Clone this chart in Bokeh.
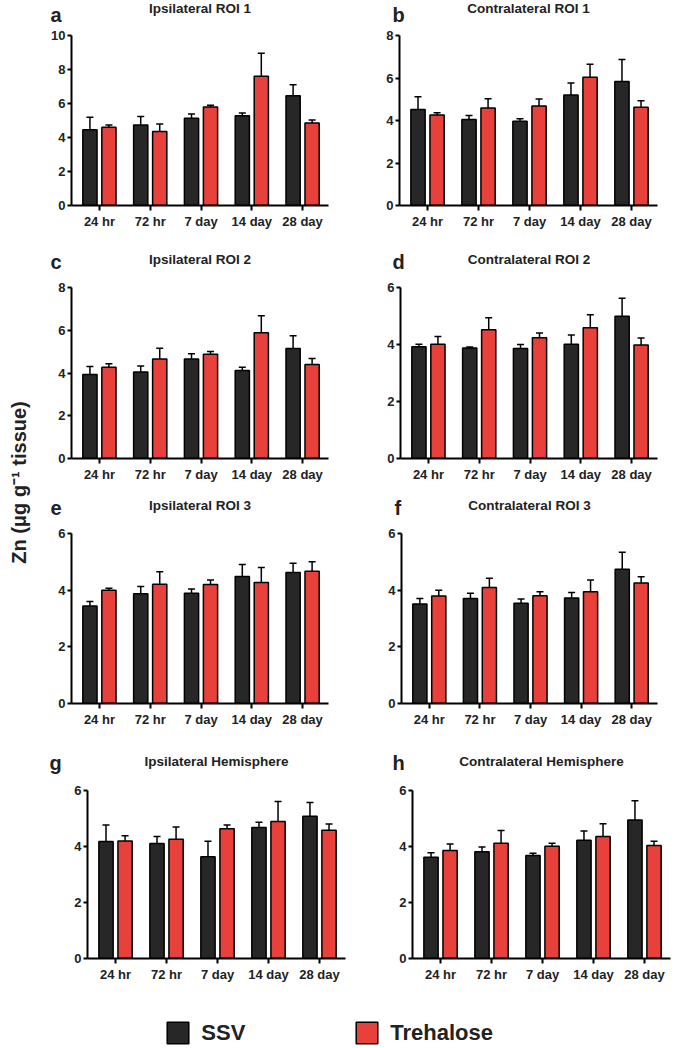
import math
from bokeh.plotting import figure
from bokeh.layouts import row, column
from bokeh.models import (ColumnDataSource, Range1d, FixedTicker, SingleIntervalTicker,
                          Whisker, TeeHead, Label, Legend, LegendItem)
from bokeh.transform import dodge
from bokeh.embed import file_html
from bokeh.resources import INLINE

# ---------------- data ----------------
times = ["24 hr", "72 hr", "7 day", "14 day", "28 day"]
series_names = ["SSV", "Trehalose"]

a_ssv = [4.46, 4.74, 5.13, 5.28, 6.46]
a_ssv_sem = [0.73, 0.50, 0.25, 0.16, 0.64]
a_tre = [4.60, 4.36, 5.79, 7.61, 4.85]
a_tre_sem = [0.14, 0.43, 0.10, 1.35, 0.18]

b_ssv = [4.52, 4.05, 3.97, 5.20, 5.84]
b_ssv_sem = [0.60, 0.19, 0.11, 0.56, 1.03]
b_tre = [4.26, 4.59, 4.68, 6.03, 4.62]
b_tre_sem = [0.11, 0.43, 0.33, 0.62, 0.31]

c_ssv = [3.93, 4.05, 4.65, 4.12, 5.15]
c_ssv_sem = [0.37, 0.28, 0.25, 0.15, 0.59]
c_tre = [4.27, 4.66, 4.88, 5.88, 4.40]
c_tre_sem = [0.16, 0.50, 0.13, 0.80, 0.28]

d_ssv = [3.92, 3.88, 3.86, 4.01, 4.99]
d_ssv_sem = [0.09, 0.03, 0.14, 0.32, 0.63]
d_tre = [4.01, 4.52, 4.24, 4.59, 3.98]
d_tre_sem = [0.27, 0.42, 0.16, 0.45, 0.25]

e_ssv = [3.44, 3.87, 3.89, 4.48, 4.62]
e_ssv_sem = [0.16, 0.26, 0.15, 0.43, 0.33]
e_tre = [4.00, 4.21, 4.20, 4.27, 4.67]
e_tre_sem = [0.07, 0.44, 0.16, 0.53, 0.33]

f_ssv = [3.51, 3.71, 3.54, 3.72, 4.74]
f_ssv_sem = [0.20, 0.18, 0.15, 0.20, 0.60]
f_tre = [3.79, 4.09, 3.80, 3.94, 4.25]
f_tre_sem = [0.21, 0.33, 0.14, 0.42, 0.22]

g_ssv = [4.18, 4.11, 3.63, 4.68, 5.08]
g_ssv_sem = [0.59, 0.25, 0.56, 0.19, 0.49]
g_tre = [4.20, 4.26, 4.63, 4.89, 4.58]
g_tre_sem = [0.18, 0.44, 0.14, 0.72, 0.22]

h_ssv = [3.62, 3.81, 3.68, 4.22, 4.95]
h_ssv_sem = [0.16, 0.17, 0.08, 0.33, 0.68]
h_tre = [3.86, 4.12, 4.01, 4.36, 4.04]
h_tre_sem = [0.23, 0.45, 0.11, 0.45, 0.15]

titles = ["Ipsilateral ROI 1", "Contralateral ROI 1", "Ipsilateral ROI 2", "Contralateral ROI 2",
          "Ipsilateral ROI 3", "Contralateral ROI 3", "Ipsilateral Hemisphere", "Contralateral Hemisphere"]
letters = ["a", "b", "c", "d", "e", "f", "g", "h"]
y_max = [10, 8, 8, 6, 6, 6, 6, 6]
y_label = "Zn (\u03bcg g\u207b\u00b9 tissue)"

# ---------------- style / geometry (page px) ----------------
FONT = "Liberation Sans"
TXT = "#222222"
SSV_COLOR = "#272727"
TRE_COLOR = "#e8403a"
BAR_W = 0.28
OFF = 0.187

YL_W = 32
LEFT_X, LEFT_W = 32, 328
RIGHT_X, RIGHT_W = 360, 312
FULL_W = LEFT_W + RIGHT_W

# per row: header height, panel height, panel top/bottom borders, title/letter offsets (from header bottom)
rows_geo = [
    dict(hh=28, ph=212, bt=7, bb=35, tb=20, lb=14),
    dict(hh=40, ph=205, bt=7, bb=27, tb=21, lb=19),
    dict(hh=41, ph=214, bt=7, bb=37, tb=21, lb=19),
    dict(hh=43, ph=207, bt=7, bb=32, tb=22, lb=21),
]
left_geo = [dict(bl=39, br=32, lx=50), dict(bl=39, br=32, lx=50),
            dict(bl=39, br=32, lx=50), dict(bl=55, br=15, lx=49)]
right_geo = [dict(bl=39, br=15, lx=392), dict(bl=40, br=15, lx=392),
             dict(bl=41, br=15, lx=394), dict(bl=52, br=2, lx=392)]
LEG_H = 56


def make_panel(idx, ssv, ssv_sem, tre, tre_sem, rg, cg, cw):
    xs = list(range(len(times)))
    src = ColumnDataSource(dict(
        x=xs, ssv=ssv, tre=tre,
        ssv_hi=[m + s for m, s in zip(ssv, ssv_sem)],
        tre_hi=[m + s for m, s in zip(tre, tre_sem)],
    ))
    p = figure(width=cw, height=rg["ph"], output_backend="svg", toolbar_location=None,
               x_range=Range1d(-0.55, 4.51), y_range=Range1d(0, y_max[idx]),
               min_border_left=cg["bl"], min_border_right=cg["br"],
               min_border_top=rg["bt"], min_border_bottom=rg["bb"])
    p.outline_line_color = None
    p.grid.visible = False

    p.vbar(x=dodge("x", -OFF), top="ssv", width=BAR_W, bottom=0, source=src,
           fill_color=SSV_COLOR, line_color="black", line_width=1.5)
    p.vbar(x=dodge("x", OFF), top="tre", width=BAR_W, bottom=0, source=src,
           fill_color=TRE_COLOR, line_color="black", line_width=1.5)
    for off, lo, hi in [(-OFF, "ssv", "ssv_hi"), (OFF, "tre", "tre_hi")]:
        p.add_layout(Whisker(source=src, base=dodge("x", off), lower=lo, upper=hi,
                             dimension="height", line_color="black", line_width=1.5,
                             upper_head=TeeHead(size=7, line_width=1.5, line_color="black"),
                             lower_head=None))

    p.xaxis.ticker = FixedTicker(ticks=xs)
    p.xaxis.major_label_overrides = {i: t for i, t in enumerate(times)}
    p.yaxis.ticker = SingleIntervalTicker(interval=2, num_minor_ticks=0)
    for ax in (p.xaxis, p.yaxis):
        ax.axis_line_width = 2
        ax.axis_line_color = "black"
        ax.major_tick_line_width = 2
        ax.major_tick_line_color = "black"
        ax.major_tick_in = 0
        ax.minor_tick_line_color = None
        ax.major_label_text_font = FONT
        ax.major_label_text_font_style = "bold"
        ax.major_label_text_font_size = "13px"
        ax.major_label_text_color = TXT
    p.xaxis.major_tick_out = 5
    p.xaxis.major_label_standoff = 3
    p.yaxis.major_tick_out = 4
    p.yaxis.major_label_standoff = 2
    return p


def make_header(li, ri, rg):
    hp = figure(width=FULL_W, height=rg["hh"], output_backend="svg", toolbar_location=None,
                x_range=Range1d(0, 1), y_range=Range1d(0, 1), min_border=0)
    hp.axis.visible = False
    hp.grid.visible = False
    hp.outline_line_color = None
    r = li // 2
    for idx, cx, cw, cg in [(li, LEFT_X, LEFT_W, left_geo[r]), (ri, RIGHT_X, RIGHT_W, right_geo[r])]:
        frame_left = cx + cg["bl"]
        frame_right = cx + cw - cg["br"]
        hp.add_layout(Label(x=(frame_left + frame_right) / 2 - LEFT_X, y=rg["tb"],
                            x_units="screen", y_units="screen", text=titles[idx],
                            text_font=FONT, text_font_style="bold", text_font_size="13.5px",
                            text_align="center", text_baseline="alphabetic", text_color=TXT))
        hp.add_layout(Label(x=cg["lx"] - LEFT_X, y=rg["lb"],
                            x_units="screen", y_units="screen", text=letters[idx],
                            text_font=FONT, text_font_style="bold", text_font_size="20px",
                            text_align="left", text_baseline="alphabetic", text_color=TXT))
    return hp


data = [(a_ssv, a_ssv_sem, a_tre, a_tre_sem), (b_ssv, b_ssv_sem, b_tre, b_tre_sem),
        (c_ssv, c_ssv_sem, c_tre, c_tre_sem), (d_ssv, d_ssv_sem, d_tre, d_tre_sem),
        (e_ssv, e_ssv_sem, e_tre, e_tre_sem), (f_ssv, f_ssv_sem, f_tre, f_tre_sem),
        (g_ssv, g_ssv_sem, g_tre, g_tre_sem), (h_ssv, h_ssv_sem, h_tre, h_tre_sem)]

blocks = []
for r in range(4):
    li, ri = 2 * r, 2 * r + 1
    blocks.append(make_header(li, ri, rows_geo[r]))
    pl = make_panel(li, *data[li], rows_geo[r], left_geo[r], LEFT_W)
    pr = make_panel(ri, *data[ri], rows_geo[r], right_geo[r], RIGHT_W)
    blocks.append(row(pl, pr, spacing=0))

# legend figure (legend swatches come from hidden proxy renderers)
lp = figure(width=FULL_W, height=LEG_H, output_backend="svg", toolbar_location=None,
            x_range=Range1d(0, 1), y_range=Range1d(0, 1), min_border=0)
lp.axis.visible = False
lp.grid.visible = False
lp.outline_line_color = None
r_ssv = lp.vbar(x=[0.5], top=[0.5], bottom=[0.5], width=0, fill_color=SSV_COLOR,
                line_color="black", line_width=1.5, visible=False)
r_tre = lp.vbar(x=[0.5], top=[0.5], bottom=[0.5], width=0, fill_color=TRE_COLOR,
                line_color="black", line_width=1.5, visible=False)
for rend, name, bx in [(r_ssv, series_names[0], 167), (r_tre, series_names[1], 356)]:
    lp.add_layout(Legend(items=[LegendItem(label=name, renderers=[rend])],
                         location=(bx - 2.7 - LEFT_X, 0), orientation="horizontal",
                         glyph_width=27, glyph_height=27, label_height=27,
                         label_standoff=10, padding=0, margin=0,
                         border_line_color=None, background_fill_alpha=0,
                         inactive_fill_alpha=0,
                         label_text_font=FONT, label_text_font_style="bold",
                         label_text_font_size="22px", label_text_color=TXT,
                         label_text_baseline="middle"))

# y label figure
TOTAL_H = sum(g["hh"] + g["ph"] for g in rows_geo) + LEG_H
yl = figure(width=YL_W, height=TOTAL_H, output_backend="svg", toolbar_location=None,
            x_range=Range1d(0, 1), y_range=Range1d(0, 1), min_border=0)
yl.axis.visible = False
yl.grid.visible = False
yl.outline_line_color = None
yl.add_layout(Label(x=18, y=TOTAL_H - 482, x_units="screen", y_units="screen",
                    text=y_label, angle=math.pi / 2, text_align="center",
                    text_baseline="middle", text_font=FONT, text_font_style="bold",
                    text_font_size="20px", text_color=TXT))

layout = row(yl, column(*blocks, lp, spacing=0), spacing=0)
open("out.html", "w").write(file_html(layout, INLINE))
